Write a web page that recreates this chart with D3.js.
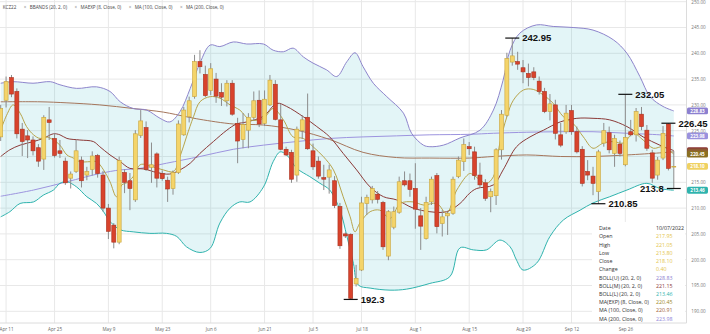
<!DOCTYPE html>
<html><head><meta charset="utf-8">
<script src="https://cdn.jsdelivr.net/npm/d3@7"></script>
<style>body{margin:0;background:#fff}svg{display:block}</style>
</head><body><svg id="c" width="710" height="334"></svg>
<script>
// ---------- DATA ----------
const dates = ("04-08 04-11 04-12 04-13 04-14 04-18 04-19 04-20 04-21 04-22 04-25 04-26 04-27 04-28 04-29 " +
"05-02 05-03 05-04 05-05 05-06 05-09 05-10 05-11 05-12 05-13 05-16 05-17 05-18 05-19 05-20 05-23 05-24 05-25 05-26 05-27 05-31 " +
"06-01 06-02 06-03 06-06 06-07 06-08 06-09 06-10 06-13 06-14 06-15 06-16 06-17 06-21 06-22 06-23 06-24 06-27 06-28 06-29 06-30 " +
"07-01 07-05 07-06 07-07 07-08 07-11 07-12 07-13 07-14 07-15 07-18 07-19 07-20 07-21 07-22 07-25 07-26 07-27 07-28 07-29 " +
"08-01 08-02 08-03 08-04 08-05 08-08 08-09 08-10 08-11 08-12 08-15 08-16 08-17 08-18 08-19 08-22 08-23 08-24 08-25 08-26 08-29 08-30 08-31 " +
"09-01 09-02 09-06 09-07 09-08 09-09 09-12 09-13 09-14 09-15 09-16 09-19 09-20 09-21 09-22 09-23 09-26 09-27 09-28 09-29 09-30 " +
"10-03 10-04 10-05 10-06 10-07").split(" ");

const open = [223.8,230.9,235.3,232.6,225.3,224.0,223.2,221.7,219.5,227.1,
223.5,221.1,219.1,215.8,217.1,219.3,216.4,217.5,220.2,216.4,
210.0,206.7,203.4,216.9,215.3,211.6,224.1,225.6,217.9,220.5,
216.7,215.4,213.8,216.9,224.2,227.7,231.6,238.4,235.9,232.8,
235.0,232.4,230.8,234.2,226.4,223.3,225.1,227.6,230.9,226.4,
230.0,234.0,227.1,221.4,220.8,216.4,225.0,227.6,221.1,219.1,
215.9,216.0,215.3,210.3,205.0,204.9,195.3,198.0,210.9,211.6,
212.7,211.1,200.7,206.3,209.2,215.3,215.3,213.8,208.5,204.1,
211.2,216.3,207.0,208.5,209.0,216.1,219.0,221.9,220.9,216.4,
214.9,212.2,212.4,221.3,228.0,238.3,238.4,237.2,236.1,236.4,
234.6,232.6,228.7,230.0,224.2,224.8,228.9,224.8,221.4,217.1,
216.2,213.2,222.6,224.6,220.6,222.4,218.4,224.8,224.2,228.2,
225.1,220.7,216.4,219.7,226.3,217.95];
const high = [230.0,235.5,235.8,233.2,226.5,225.1,223.9,222.4,228.0,229.6,
224.5,223.2,219.8,217.1,223.2,220.0,218.0,221.0,220.5,217.2,
210.8,207.1,220.0,217.5,216.8,225.1,229.0,226.8,222.7,220.8,
217.3,216.1,217.3,227.0,229.6,231.6,239.7,240.6,237.6,238.1,
236.2,234.2,234.8,234.8,227.5,228.4,228.4,232.6,232.8,232.8,
235.8,234.8,230.2,221.9,221.3,225.8,228.0,232.2,222.5,220.0,
218.4,218.4,216.2,211.0,205.3,205.1,199.0,212.2,212.6,214.3,
213.3,211.4,209.6,210.3,216.1,217.1,216.7,218.7,210.0,212.2,
216.1,216.8,209.6,209.3,216.1,220.0,223.5,222.8,221.9,218.8,
215.6,213.8,221.6,229.0,240.1,242.95,240.3,238.7,238.0,237.3,
235.5,233.3,232.1,231.0,226.5,230.0,230.0,225.8,222.0,219.3,
218.0,221.3,226.5,225.8,224.2,223.1,232.05,227.1,229.4,229.6,
226.1,221.3,219.9,225.9,226.45,221.05];
const low = [223.0,229.5,231.5,223.5,220.1,219.7,220.2,218.0,217.4,223.2,
219.8,219.7,214.5,213.8,216.8,214.0,215.4,216.3,215.9,209.3,
204.0,202.2,203.0,212.9,209.6,211.2,223.6,217.2,214.9,214.0,
215.3,211.2,212.6,216.6,224.0,226.6,231.2,236.1,231.5,231.9,
230.4,229.8,229.7,227.9,218.7,221.6,221.6,227.0,225.7,225.9,
229.8,227.0,221.2,220.1,214.9,215.1,223.4,221.3,217.4,215.7,
213.5,212.8,210.0,202.1,204.2,192.3,194.8,197.8,208.7,210.9,
210.9,201.9,199.9,205.9,208.9,214.2,212.2,206.0,201.9,203.9,
210.6,205.1,204.5,204.8,208.7,215.8,217.2,220.3,215.5,214.0,
211.4,209.2,210.6,219.4,227.7,237.6,236.8,234.2,233.6,234.8,
232.0,228.4,227.0,223.3,221.8,224.4,224.2,220.6,214.2,215.4,
212.5,210.85,221.9,220.6,218.0,220.0,218.1,223.9,222.9,225.1,
221.1,214.9,215.5,219.3,217.3,213.8];
const close = [229.3,234.5,232.1,224.4,222.9,223.2,221.1,219.1,227.6,226.6,
220.2,220.6,214.9,216.6,221.1,215.3,217.1,220.1,216.7,210.0,
205.5,203.4,219.2,215.0,213.8,224.4,226.9,217.5,218.4,215.8,
215.7,213.7,216.9,226.3,229.0,230.8,238.4,237.4,231.8,237.0,
231.7,231.5,234.2,228.2,223.0,226.2,227.6,230.8,226.3,231.1,
234.8,227.2,221.4,220.3,215.6,225.3,227.1,221.5,218.0,216.2,
215.6,217.4,210.5,202.7,204.6,192.5,196.4,211.0,212.1,213.8,
211.7,202.5,209.3,209.3,215.1,214.5,213.6,209.8,206.5,211.1,
215.6,206.4,208.3,209.0,215.6,219.3,222.3,221.5,216.3,214.5,
211.9,213.2,221.3,228.2,239.0,239.5,237.9,236.4,235.3,235.3,
232.6,228.7,230.2,224.5,222.2,228.4,224.8,220.9,214.8,216.4,
214.8,220.9,225.0,221.3,223.5,220.6,223.7,224.2,228.7,225.8,
221.6,215.8,219.3,224.5,217.7,218.10];

// indicator lines: [bar index, value]
const bollUpper = [[0,234.2],[2.3,234.5],[6,234.2],[9.2,234.5],[11,233.9],[14.1,233.2],[17.8,233.5],[20.3,232.6],[22.2,230.6],[24.6,229.3],[27.1,229.0],[29.6,227.4],[31.4,226.7],[33.3,228.7],[35.2,233.2],[37,238.1],[38.9,241.6],[40.7,241.3],[43.2,242.2],[45.7,241.8],[48.8,241.8],[50.6,240.6],[52.5,240.3],[54.3,241.0],[56.2,239.3],[58,238.1],[60.5,236.8],[62.4,235.5],[64.3,238.4],[65.8,240.1],[67.3,237.4],[69.2,234.2],[71.7,231.6],[74.8,228.4],[76.3,224.5],[78.5,222.2],[79.7,221.9],[82.2,222.2],[85.3,223.6],[89,225.1],[91.5,229.0],[93.3,234.8],[94.6,240.6],[96.4,243.9],[99.5,245.5],[102.6,245.2],[106.3,245.0],[110,244.5],[113.8,242.6],[116.3,240.0],[118.7,235.5],[120.6,231.6],[123,229.7],[125,228.83]];
const bollMiddle = [[0,220.0],[1.7,221.3],[3.6,222.2],[6.1,222.9],[7.9,223.5],[9.8,224.4],[11,224.2],[12.3,223.5],[14.7,223.2],[17.2,222.9],[18.4,221.9],[20.3,220.3],[22.2,219.0],[24,217.7],[26.5,217.6],[29,216.9],[31.4,216.6],[33.3,217.4],[35.2,218.7],[37,220.6],[39.5,222.9],[42,225.1],[43.8,226.3],[45.7,226.7],[48.8,227.8],[51.3,230.3],[53.1,229.7],[56.2,227.7],[58.7,225.8],[61.1,223.8],[63.6,220.6],[66.1,217.4],[68.6,214.1],[71.1,212.2],[73.5,211.6],[76.6,210.0],[79.7,209.3],[82.8,209.3],[85.3,210.9],[87.1,212.9],[88.4,213.8],[91.5,214.5],[93.3,217.4],[95.8,221.9],[98.3,223.8],[100.8,225.1],[103.9,226.7],[107,227.4],[110,227.4],[113.1,227.1],[116.3,225.8],[119.3,223.8],[122.4,222.2],[125,221.15]];
const bollLower = [[0,208.3],[1.7,209.3],[3.6,210.9],[6.1,211.2],[7.9,212.5],[9.8,213.5],[11,214.8],[12.3,215.1],[14.1,214.1],[16,212.2],[17.8,210.9],[19.1,209.3],[20.3,207.4],[22.2,205.8],[24.6,205.4],[27.7,205.1],[30.8,205.1],[32.7,204.5],[34.5,202.5],[37,201.4],[38.9,202.2],[40.7,207.1],[42.6,210.0],[44.4,211.2],[46.3,211.2],[48.8,214.1],[50.6,219.0],[51.9,220.9],[53.1,220.3],[55,217.7],[57.4,216.1],[59.3,214.8],[61.1,213.5],[63,209.6],[64.3,204.5],[65.5,199.3],[66.4,195.1],[68.6,194.5],[72.3,194.1],[75.4,194.3],[79.7,195.4],[83.4,196.7],[85.3,202.3],[87.8,201.9],[90.2,201.9],[92.7,203.8],[94.6,202.5],[95.8,199.9],[97,198.0],[99.5,199.3],[102,204.5],[104.5,207.7],[107.6,209.6],[110,211.0],[113.1,212.2],[116.3,213.5],[120,214.8],[122.4,213.8],[125,213.46]];
const maExp8 = [[0,225.1],[1.1,228.0],[2.3,230.0],[3.6,228.4],[4.8,225.8],[6.1,224.2],[7.3,223.5],[8.5,223.8],[9.8,223.2],[11,222.2],[12.3,220.3],[13.5,219.7],[14.7,219.0],[16.6,219.0],[17.8,219.0],[19.1,217.4],[20.3,215.1],[21.5,212.2],[22.5,214.5],[23.4,214.9],[24.6,216.1],[25.9,218.4],[27.1,218.4],[28.3,218.0],[30.2,217.4],[32.1,217.1],[33.3,220.0],[34.5,223.8],[35.8,227.7],[37,230.6],[38.9,231.6],[40.7,231.3],[42.6,230.0],[44.4,229.0],[46.3,227.1],[48.8,227.4],[50.6,229.3],[52.5,227.1],[54.3,223.8],[56.2,223.5],[58,221.9],[59.9,220.0],[61.8,217.4],[63.6,212.2],[64.9,208.3],[65.8,205.4],[66.7,207.1],[68.6,209.3],[70.4,209.6],[72.3,208.0],[74.2,210.9],[76.6,211.2],[78.5,210.6],[81,210.9],[82.8,209.0],[84.7,213.5],[87.1,216.7],[87.8,216.4],[90.2,214.8],[91.5,216.1],[92.7,222.6],[94,227.7],[95.2,230.9],[97.1,232.9],[98.9,233.0],[100.8,231.9],[102.6,230.3],[104.5,227.7],[106.3,226.4],[108.2,223.8],[110,221.6],[111.9,222.6],[113.8,222.9],[115.6,222.6],[117.5,224.5],[119.3,223.2],[121.2,221.6],[123,221.9],[125,220.45]];
const ma100 = [[0,230.6],[7.3,230.6],[12.3,230.4],[18.4,230.0],[24.6,229.3],[30.2,228.6],[34.5,227.7],[37,227.2],[43.2,226.3],[48.8,226.1],[55,225.1],[61.1,223.3],[67.3,220.8],[73.5,219.8],[79.7,219.7],[87.1,219.7],[91.5,220.0],[97.7,220.3],[104,220.0],[110,220.0],[116.3,220.3],[122.4,220.7],[125,220.91]];
const ma200 = [[0,212.3],[6.1,213.5],[12.3,215.1],[18.4,216.7],[22.2,217.4],[25.9,217.7],[30.8,218.7],[37,220.0],[43.2,221.4],[48.8,222.2],[55,222.9],[61.1,223.5],[67.3,223.8],[73.5,224.0],[79.7,224.2],[87.1,224.3],[91.5,224.5],[97.7,224.7],[104,224.8],[110,224.8],[116.3,224.5],[122.4,224.2],[125,223.98]];

const tickDates = ["04-11","04-25","05-09","05-23","06-06","06-21","07-05","07-18","08-01","08-15","08-29","09-12","09-26"];
const yTicks = [190,195,200,205,210,215,220,225,230,235,240,245,250];
const legendItems = ["KCZ22","BBANDS (20, 2, 0)","MAEXP (8, Close, 0)","MA (100, Close, 0)","MA (200, Close, 0)"];
const annotIdx = [95,116,111,124,125,65];
const annotVal = [242.95,232.05,210.85,226.45,213.8,192.3];
const annotText = ["242.95","232.05","210.85","226.45","213.8","192.3"];
const panelLabels = ["Date","Open","High","Low","Close","Change","BOLL(U) (20, 2, 0)","BOLL(M) (20, 2, 0)","BOLL(L) (20, 2, 0)","MA(EXP) (8, Close, 0)","MA (100, Close, 0)","MA (200, Close, 0)"];
const panelValues = ["10/07/2022","217.95","221.05","213.80","218.10","0.40","228.83","221.15","213.46","220.45","220.91","223.98"];
const tagValues = [228.83,223.98,221.15,220.91,220.45,218.10,213.46];
const tagShowText = [true,true,false,false,true,true,true];

// ---------- STYLE ----------
const C = {up:"#f4d46a", upS:"#c9a53c", dn:"#d8432c", dnS:"#a93220", wick:"#8c8c8c",
  upper:"#8e85cc", lower:"#2fb3ad", middle:"#8c3a38", ma100:"#a5765c", ma200:"#9d94df", ema:"#b7a44c",
  grid:"#e8e8e8", fill:"rgba(40,175,195,0.13)"};
const tagColors = ["#8c80d0","#9a91dd","#8a3434","#8e5a36","#8a6f22","#efd161","#2fb3ad"];
const panelColors = ["#333","#e4c44a","#e4c44a","#e4c44a","#e4c44a","#e4c44a","#8c80d0","#8c3a38","#2fb3ad","#a08a2c","#a0623a","#8f86d9"];

const svg = d3.select("#c");
const plotR = 686.5, plotB = 323;
const x = d3.scaleLinear().domain([0, dates.length - 1]).range([0.7, 673.8]);
const y = d3.scaleLinear().domain([190, 250]).range([311.3, 1.7]);
const parse = d3.timeParse("%Y-%m-%d"), fmt = d3.timeFormat("%b %-d");
const tickIdx = tickDates.map(d => dates.indexOf(d));

// grid
const g = svg.append("g");
g.selectAll(".hg").data(yTicks).join("line")
  .attr("x1", 0).attr("x2", plotR).attr("y1", d => y(d)).attr("y2", d => y(d))
  .attr("stroke", C.grid).attr("stroke-width", 1);
g.selectAll(".vg").data(tickIdx).join("line")
  .attr("x1", d => x(d)).attr("x2", d => x(d)).attr("y1", 0).attr("y2", plotB)
  .attr("stroke", C.grid).attr("stroke-width", 1);
svg.append("line").attr("x1", 0).attr("x2", plotR).attr("y1", plotB).attr("y2", plotB).attr("stroke", "#dcdcdc");
svg.append("line").attr("x1", plotR).attr("x2", plotR).attr("y1", 0).attr("y2", plotB).attr("stroke", "#dcdcdc");

// bollinger fill
const curve = d3.curveCatmullRom.alpha(0.5);
const line = d3.line().x(d => x(d[0])).y(d => y(d[1])).curve(curve);
const up = line(bollUpper), lo = line(bollLower.slice().reverse());
svg.append("path").attr("d", up + "L" + lo.slice(1) + "Z").attr("fill", C.fill);

const lines = [[ma200, C.ma200],[ma100, C.ma100],[bollMiddle, C.middle],[bollUpper, C.upper],[bollLower, C.lower],[maExp8, C.ema]];
lines.forEach(([d, c]) => svg.append("path").attr("d", line(d)).attr("fill", "none").attr("stroke", c).attr("stroke-width", 1));

// candles
const bars = d3.range(dates.length);
const cg = svg.append("g");
cg.selectAll(".w").data(bars).join("line")
  .attr("x1", i => x(i)).attr("x2", i => x(i)).attr("y1", i => y(high[i])).attr("y2", i => y(low[i]))
  .attr("stroke", C.wick).attr("stroke-width", 1);
cg.selectAll(".b").data(bars).join("rect")
  .attr("x", i => x(i) - 2).attr("width", 4)
  .attr("y", i => y(Math.max(open[i], close[i])))
  .attr("height", i => Math.max(0.8, Math.abs(y(open[i]) - y(close[i]))))
  .attr("fill", i => close[i] >= open[i] ? C.up : C.dn)
  .attr("stroke", i => close[i] >= open[i] ? C.upS : C.dnS).attr("stroke-width", 0.6);

// annotations
const ag = svg.append("g").attr("font-family", "Liberation Sans, Arial, sans-serif").attr("font-weight", "bold").attr("font-size", 9.5);
annotIdx.forEach((idx, k) => {
  const cx = x(idx), cy = y(annotVal[k]);
  const left = k === 4;
  ag.append("line").attr("x1", cx - 7).attr("x2", cx + 7).attr("y1", cy).attr("y2", cy).attr("stroke", "#111").attr("stroke-width", 1.2);
  ag.append("text").attr("x", left ? cx - 10 : cx + 10).attr("y", cy + 3.4)
    .attr("text-anchor", left ? "end" : "start").attr("fill", "#111").text(annotText[k]);
});

// legend
const lg = svg.append("g").attr("font-family", "Open Sans, sans-serif").attr("font-size", 4.6).attr("fill", "#444");
let lx = 2.7;
legendItems.forEach((t, k) => {
  if (k > 0) { lg.append("text").attr("x", lx).attr("y", 9).attr("fill", "#888").text("×"); lx += 6; }
  const tx = lg.append("text").attr("x", lx).attr("y", 9).text(t);
  lx += tx.node().getComputedTextLength() + 7.5;
});

// data panel
const pg = svg.append("g").attr("font-family", "Open Sans, sans-serif").attr("font-size", 5.3);
pg.append("rect").attr("x", 592).attr("y", 222).attr("width", 93).attr("height", 100).attr("fill", "#fff");
panelLabels.forEach((t, k) => {
  const yy = 230.2 + k * 8.22;
  pg.append("text").attr("x", 599).attr("y", yy).attr("fill", "#333").text(t);
  pg.append("text").attr("x", 656).attr("y", yy).attr("fill", panelColors[k]).text(panelValues[k]);
});

// axes
const xAxis = d3.axisBottom(x).tickValues(tickIdx).tickFormat(i => fmt(parse("2022-" + dates[i]))).tickSize(0).tickPadding(5);
const xa = svg.append("g").attr("transform", `translate(0,${plotB})`).call(xAxis);
xa.select(".domain").remove();
xa.selectAll("text").attr("font-family", "Open Sans, sans-serif").attr("font-size", 4.6).attr("fill", "#666");

const yAxis = d3.axisRight(y).tickValues(yTicks).tickFormat(d3.format(".2f")).tickSize(0).tickPadding(12);
const ya = svg.append("g").attr("transform", `translate(${plotR},0)`).call(yAxis);
ya.select(".domain").remove();
ya.selectAll("text").attr("font-family", "Open Sans, sans-serif").attr("font-size", 4.6).attr("fill", "#777").attr("text-anchor", "middle");
// hide axis labels covered by value tags
ya.selectAll(".tick").filter(d => tagValues.some(v => Math.abs(y(v) - y(d)) < 4.5)).remove();

// value tags
const tg = svg.append("g").attr("font-family", "Open Sans, sans-serif").attr("font-size", 4.6).attr("font-weight", "bold");
tagValues.forEach((v, k) => {
  tg.append("rect").attr("x", 687).attr("y", y(v) - 3.4).attr("width", 21).attr("height", 6.8).attr("rx", 1.6).attr("fill", tagColors[k]);
  if (tagShowText[k]) tg.append("text").attr("x", 697.5).attr("y", y(v) + 1.6).attr("text-anchor", "middle").attr("fill", "#fff").text(v.toFixed(2));
});
</script></body></html>
